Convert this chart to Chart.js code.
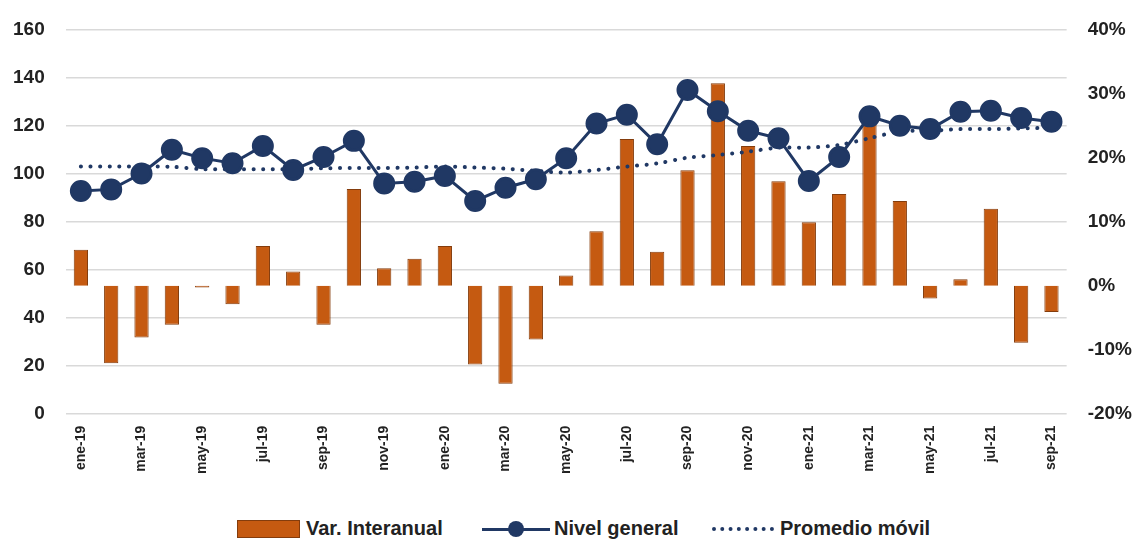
<!DOCTYPE html>
<html>
<head>
<meta charset="utf-8">
<script src="https://cdn.jsdelivr.net/npm/chart.js@4.4.1/dist/chart.umd.min.js"></script>
<style>
  body { margin:0; background:#fff; font-family:"Liberation Sans", Arial, sans-serif; overflow:hidden; }
  #wrap { position:relative; width:1136px; height:540px; overflow:hidden; }
  #box { position:absolute; left:0; top:-3px; width:1136px; height:489px; }
  #leyenda { position:absolute; left:0; top:516px; width:1136px; height:24px; font-size:20px; font-weight:bold; color:#222; }
  .item { position:absolute; top:0; white-space:nowrap; }
  .item span { vertical-align:middle; }
  .barra { display:inline-block; width:63px; height:18px; background:#C55A11; border:1px solid #843C0C; box-sizing:border-box; vertical-align:middle; margin-right:6px; }
  .linea { display:inline-block; position:relative; width:68px; height:16px; vertical-align:middle; margin-right:4px; }
  .linea:before { content:""; position:absolute; left:0; right:0; top:7px; border-top:3px solid #203864; }
  .linea:after { content:""; position:absolute; left:26px; top:0; width:16px; height:16px; border-radius:50%; background:#203864; }
  .puntos { display:inline-block; width:62px; height:0; border-top:4px dotted #203864; vertical-align:middle; margin-right:6px; }
</style>
</head>
<body>
<div id="wrap">
  <div id="box"><canvas id="myChart"></canvas></div>
  <div id="leyenda">
    <div class="item" style="left:237px"><i class="barra"></i><span>Var. Interanual</span></div>
    <div class="item" style="left:482px"><i class="linea"></i><span>Nivel general</span></div>
    <div class="item" style="left:712px"><i class="puntos"></i><span>Promedio móvil</span></div>
  </div>
</div>
<script>
const meses = ["ene-19","feb-19","mar-19","abr-19","may-19","jun-19","jul-19","ago-19","sep-19","oct-19","nov-19","dic-19",
               "ene-20","feb-20","mar-20","abr-20","may-20","jun-20","jul-20","ago-20","sep-20","oct-20","nov-20","dic-20",
               "ene-21","feb-21","mar-21","abr-21","may-21","jun-21","jul-21","ago-21","sep-21"];

const nivelGeneral = [92.7, 93.4, 100.0, 109.9, 106.4, 104.3, 111.5, 101.5, 106.9, 113.6, 95.9, 96.6,
                      99.0, 88.6, 94.1, 97.6, 106.4, 120.8, 124.5, 112.2, 134.8, 125.9, 117.8, 114.7,
                      96.9, 106.9, 123.8, 119.9, 118.5, 125.7, 126.1, 123.1, 121.6];

const promedioMovil = [102.9, 102.9, 102.9, 102.8, 101.8, 101.8, 101.8, 101.8, 102.2, 102.3, 102.3, 102.5,
                       102.9, 102.5, 102.0, 101.1, 100.4, 101.5, 102.9, 104.2, 106.6, 107.7, 109.1, 110.8,
                       110.8, 111.9, 114.7, 117.5, 117.8, 118.5, 118.5, 118.8, 119.0];

// variacion interanual en %
const varInteranual = [5.6, -12.1, -8.1, -6.1, -0.3, -2.9, 6.2, 2.2, -6.1, 15.1, 2.7, 4.2,
                       6.2, -12.3, -15.3, -8.4, 1.6, 8.5, 22.9, 5.3, 18.0, 31.6, 21.8, 16.3,
                       9.9, 14.3, 27.8, 13.2, -2.0, 1.0, 12.0, -8.9, -4.1];

const fuente = { family: "'Liberation Sans', Arial, sans-serif", size: 19, weight: "bold" };

const ctx = document.getElementById('myChart').getContext("2d");
const myChart = new Chart(ctx, {
  type: "bar",
  data: {
    labels: meses,
    datasets: [{
        type: "line",
        label: "Nivel general",
        data: nivelGeneral,
        yAxisID: "y",
        borderColor: "#203864",
        backgroundColor: "#203864",
        borderWidth: 3,
        pointRadius: 9.5,
        pointHoverRadius: 9.5,
        pointBackgroundColor: "#203864",
        tension: 0,
        order: 0
      }, {
        type: "line",
        label: "Promedio móvil",
        data: promedioMovil,
        yAxisID: "y",
        borderColor: "#203864",
        borderWidth: 4,
        borderDash: [0.1, 9.5],
        borderCapStyle: "round",
        pointRadius: 0,
        tension: 0.3,
        order: 1
      }, {
        label: "Var. Interanual",
        data: varInteranual,
        yAxisID: "y2",
        backgroundColor: "#C55A11",
        borderColor: "#843C0C",
        borderWidth: 1,
        categoryPercentage: 1,
        barPercentage: 0.47,
        order: 2
      }]
  },
  options: {
    responsive: true,
    maintainAspectRatio: false,
    animation: false,
    layout: { padding: { left: -8, right: -17, top: 13, bottom: 0 } },
    plugins: { legend: { display: false }, tooltip: { enabled: false } },
    scales: {
      x: {
        grid: { display: false, drawTicks: false },
        border: { display: false },
        ticks: {
          autoSkip: false,
          minRotation: 90,
          maxRotation: 90,
          padding: 12,
          color: "#222",
          font: { family: "'Liberation Sans', Arial, sans-serif", size: 14, weight: "bold" },
          callback: function (v, i) { return i % 2 === 0 ? meses[i] : ""; }
        }
      },
      y: {
        position: "left",
        min: 0, max: 160,
        grid: { color: "#d9d9d9", lineWidth: 1.5, drawTicks: false },
        border: { display: false },
        ticks: { stepSize: 20, padding: 21, color: "#222", font: fuente }
      },
      y2: {
        position: "right",
        min: -20, max: 40,
        grid: { display: false, drawTicks: false },
        border: { display: false },
        ticks: { stepSize: 10, padding: 21, color: "#222", font: fuente,
                 callback: function (v) { return v + "%"; } }
      }
    }
  }
});
</script>
</body>
</html>
